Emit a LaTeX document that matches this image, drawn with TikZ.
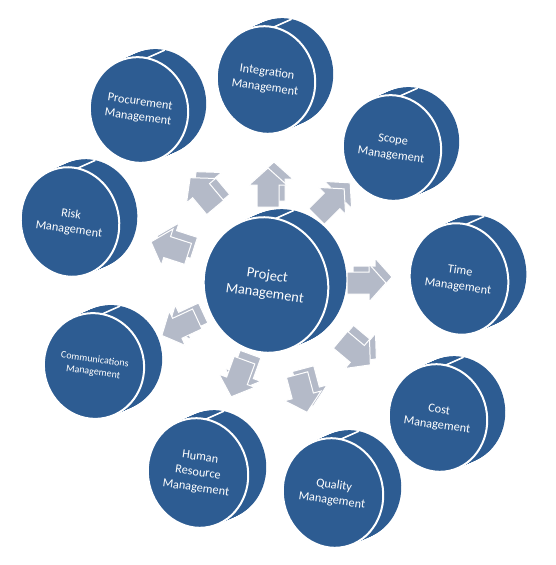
\documentclass[tikz,border=0pt]{standalone}
\usepackage{fontspec}
\setmainfont{Carlito}
\definecolor{diskblue}{HTML}{2D5C92}
\definecolor{arrowgray}{HTML}{B4BAC8}
\tikzset{
  disklabel/.style={text=white, align=center, rotate=-8, inner sep=0pt},
  arrowface/.style={fill=arrowgray, draw=white, line width=1pt, line join=miter},
}
% #1 name, #2 cx, #3 cy (pixel, y down), #4 rx, #5 ry, #6 font size, #7 text
\newcommand\pmdisk[7]{%
  \begin{scope}[shift={(#2,-#3)}, rotate=12]
    \foreach \t in {0,0.05,...,1.01}{
      \fill[diskblue] (19.3*\t,4.1*\t) ellipse [x radius=#4, y radius=#5];
    }
    \fill[diskblue, draw=white, line width=2pt] (0,0) ellipse [x radius=#4, y radius=#5];
    \draw[white, line width=1.6pt] (68:#4 and #5) -- ++(19.3,4.1);
  \end{scope}
  \node[disklabel, font=\fontsize{#6}{\dimexpr #6pt*126/100\relax}\selectfont] (#1) at (#2,-#3) {#7};
}
% #1 x, #2 y (pixel, y down), #3 angle
\newcommand\pmarrow[3]{%
  \begin{scope}[shift={(#1+6,-#2+6)}, rotate=#3]
    \filldraw[arrowface] (-19,-11) -- (3,-11) -- (3,-19) -- (20,0) -- (3,19) -- (3,11) -- (-19,11) -- cycle;
  \end{scope}
  \begin{scope}[shift={(#1,-#2)}, rotate=#3]
    \filldraw[arrowface] (-19,-11) -- (3,-11) -- (3,-19) -- (20,0) -- (3,19) -- (3,11) -- (-19,11) -- cycle;
  \end{scope}
}
\begin{document}
\begin{tikzpicture}[x=1pt, y=1pt]
\useasboundingbox (0,0) rectangle (555,-565);
% arrows
\pmarrow{268}{188}{90}
\pmarrow{203}{193}{130}
\pmarrow{330}{203}{45}
\pmarrow{170}{248}{162}
\pmarrow{366}{283}{0}
\pmarrow{180}{327}{205}
\pmarrow{355}{352}{-40}
\pmarrow{238}{378}{-110}
\pmarrow{302}{393}{-75}
% disks
\pmdisk{integration}{266}{80}{49}{54}{12.3}{Integration\\Management}
\pmdisk{procurement}{139}{110}{49}{53}{12.3}{Procurement\\Management}
\pmdisk{scope}{392}{148}{49}{53}{12.3}{Scope\\Management}
\pmdisk{risk}{70}{222}{49}{55}{12.3}{Risk\\Management}
\pmdisk{project}{266}{285}{62}{68}{14.4}{Project\\Management}
\pmdisk{time}{459}{279}{49}{56}{12.3}{Time\\Management}
\pmdisk{comm}{94}{366}{50}{53}{10}{Communications\\Management}
\pmdisk{cost}{438}{418}{49}{54}{12.3}{Cost\\Management}
\pmdisk{hr}{198}{473}{50}{55}{12.3}{Human\\Resource\\Management}
\pmdisk{quality}{333}{493}{50}{55}{12.3}{Quality\\Management}
\end{tikzpicture}
\end{document}
